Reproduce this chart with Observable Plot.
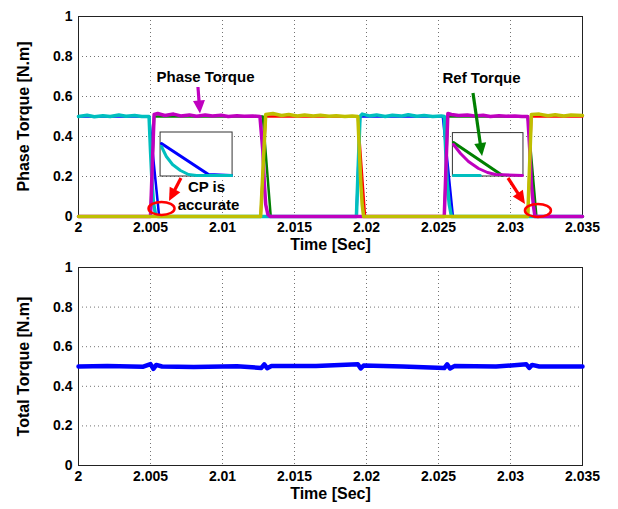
<!DOCTYPE html>
<html><head><meta charset="utf-8">
<script src="https://cdn.jsdelivr.net/npm/d3@7"></script>
<script src="https://cdn.jsdelivr.net/npm/@observablehq/plot@0.6"></script>
<style>
body{margin:0;background:#fff;}
#chart{width:618px;}
#chart svg{display:block;}
</style></head><body><div id="chart"></div>
<script>
// ---------- tick labels ----------
const xTicks = [2, 2.005, 2.01, 2.015, 2.02, 2.025, 2.03, 2.035];
const xTickLabels = ["2", "2.005", "2.01", "2.015", "2.02", "2.025", "2.03", "2.035"];
const yTicks = [0, 0.2, 0.4, 0.6, 0.8, 1];
const yTickLabels = ["0", "0.2", "0.4", "0.6", "0.8", "1"];

// ---------- phase torques (top) ----------
const cyanT = [2.0000,2.0006,2.0011,2.0017,2.0022,2.0028,2.0033,2.0039,2.0044,2.0049,2.0050,2.0051,2.0052,2.00535,2.0055,2.0193,2.01955,2.0197,2.0202,2.0207,2.0213,2.0218,2.0224,2.0229,2.0235,2.0240,2.0246,2.0252,2.0254,2.0255,2.0256,2.02575,2.0259,2.0350];
const cyanV = [0.500,0.506,0.499,0.504,0.500,0.507,0.501,0.505,0.500,0.500,0.33,0.18,0.07,0.01,0,0,0.50,0.512,0.503,0.508,0.500,0.506,0.502,0.509,0.501,0.505,0.500,0.503,0.500,0.33,0.17,0.06,0,0];

const magT = [2.0000,2.0050,2.00525,2.0055,2.0060,2.0066,2.0071,2.0077,2.0082,2.0088,2.0093,2.0099,2.0104,2.0110,2.0115,2.0121,2.0126,2.0128,2.0129,2.0130,2.01315,2.0133,2.0254,2.02565,2.0259,2.0264,2.0270,2.0275,2.0281,2.0286,2.0292,2.0297,2.0303,2.0308,2.0312,2.03135,2.03145,2.0316,2.0317,2.0350];
const magV = [0,0,0.51,0.515,0.505,0.512,0.503,0.508,0.501,0.507,0.502,0.506,0.500,0.504,0.501,0.503,0.500,0.33,0.17,0.06,0.01,0,0,0.515,0.51,0.505,0.508,0.502,0.506,0.500,0.504,0.501,0.503,0.500,0.500,0.32,0.16,0.05,0,0];

const yelT = [2.0000,2.01265,2.0130,2.0135,2.0141,2.0146,2.0152,2.0157,2.0163,2.0168,2.0174,2.0179,2.0185,2.0190,2.0194,2.0195,2.0196,2.0197,2.0198,2.0312,2.03145,2.0320,2.0326,2.0331,2.0337,2.0342,2.0350];
const yelV = [0,0,0.51,0.515,0.505,0.510,0.503,0.508,0.502,0.506,0.501,0.504,0.500,0.503,0.500,0.33,0.17,0.06,0,0,0.51,0.512,0.504,0.509,0.502,0.507,0.505];

// reference torques
const refBlueT = [2.0000,2.0049,2.0056,2.0193,2.01955,2.0253,2.0260,2.0350];
const refBlueV = [0.5,0.5,0,0,0.5,0.5,0,0];
const refGreenT = [2.0000,2.0050,2.00525,2.0128,2.01335,2.0254,2.02565,2.0312,2.0318,2.0350];
const refGreenV = [0,0,0.5,0.5,0,0,0.5,0.5,0,0];
const refRedT = [2.0000,2.01265,2.0130,2.0194,2.0199,2.0312,2.03145,2.0350];
const refRedV = [0,0,0.5,0.5,0,0,0.5,0.5];

// insets (zoomed detail drawn in data coordinates)
const insetBoxes = [
  {t1: 2.0057, t2: 2.0107, v1: 0.20, v2: 0.42},
  {t1: 2.0260, t2: 2.0309, v1: 0.20, v2: 0.417}
];
const in1BlueT = [2.00576, 2.00903, 2.01063];
const in1BlueV = [0.365, 0.21, 0.205];
const in1CyanT = [2.00576, 2.0061, 2.00653, 2.00708, 2.00764, 2.0082, 2.01063];
const in1CyanV = [0.35, 0.30, 0.26, 0.23, 0.21, 0.205, 0.205];
const in2CyanT = [2.02604, 2.0279];
const in2CyanV = [0.205, 0.205];
const in2GreenT = [2.02604, 2.02944];
const in2GreenV = [0.37, 0.205];
const in2MagT = [2.02604, 2.02653, 2.02708, 2.02778, 2.0284, 2.02896, 2.03083];
const in2MagV = [0.36, 0.315, 0.275, 0.24, 0.22, 0.21, 0.205];

// annotations
const labels = [
  {text: "Phase Torque", t: 2.00882, v: 0.695},
  {text: "Ref Torque", t: 2.02799, v: 0.69},
  {text: "CP is", t: 2.00889, v: 0.145},
  {text: "accurate", t: 2.00903, v: 0.055}
];
const arrows = [
  {t1: 2.00833, v1: 0.645, t2: 2.00847, v2: 0.513, color: "#bf00bf"},
  {t1: 2.02743, v1: 0.615, t2: 2.02806, v2: 0.30, color: "#008000"},
  {t1: 2.00715, v1: 0.19, t2: 2.00632, v2: 0.075, color: "#ff0000"},
  {t1: 2.02986, v1: 0.19, t2: 2.03104, v2: 0.06, color: "#ff0000"}
];
const ellipses = [
  {t: 2.00580, v: 0.038},
  {t: 2.03194, v: 0.028}
];

// ---------- total torque (bottom) ----------
const totT = [2.0000,2.0020,2.0045,2.0050,2.0052,2.0054,2.0058,2.0080,2.0110,2.0127,2.0129,2.0131,2.0134,2.0165,2.0194,2.0196,2.0198,2.0225,2.0254,2.0256,2.0258,2.0261,2.0290,2.0311,2.0313,2.0315,2.0320,2.0350];
const totV = [0.500,0.502,0.499,0.512,0.488,0.508,0.500,0.497,0.501,0.493,0.511,0.491,0.503,0.502,0.511,0.490,0.505,0.500,0.492,0.511,0.490,0.502,0.500,0.511,0.493,0.508,0.500,0.500];

// ---------- helpers ----------
const pts = (T, V) => T.map((t, i) => ({t, v: V[i]}));
const xLab = new Map(xTicks.map((d, i) => [d, xTickLabels[i]]));
const yLab = new Map(yTicks.map((d, i) => [d, yTickLabels[i]]));
const FONT = "'Liberation Sans', Arial, Helvetica, sans-serif";

function frameMarks(ylabel) {
  return [
    Plot.gridX(xTicks, {stroke: "#000", strokeOpacity: 0.55, strokeDasharray: "1,3"}),
    Plot.gridY(yTicks, {stroke: "#000", strokeOpacity: 0.55, strokeDasharray: "1,3"}),
    Plot.frame({stroke: "#222"}),
    Plot.axisX(xTicks, {tickSize: 0, tickPadding: 6, tickFormat: d => xLab.get(d), label: null, fontSize: 14, fontWeight: "bold", fill: "#000"}),
    Plot.axisY(yTicks, {tickSize: 0, tickPadding: 6, tickFormat: d => yLab.get(d), label: null, fontSize: 14, fontWeight: "bold", fill: "#000"}),
    Plot.text(["Time [Sec]"], {frameAnchor: "bottom", dy: 33, fontSize: 16, fontWeight: "bold", fill: "#000"}),
    Plot.text([ylabel], {frameAnchor: "left", textAnchor: "middle", rotate: -90, dx: -55, fontSize: 16, fontWeight: "bold", fill: "#000"})
  ];
}

function annotationMark(index, scales) {
  const {x, y} = scales;
  const g = d3.create("svg:g");
  for (const e of ellipses) {
    g.append("ellipse").attr("cx", x(e.t)).attr("cy", y(e.v)).attr("rx", 13).attr("ry", 6.5)
      .attr("fill", "none").attr("stroke", "#ff0000").attr("stroke-width", 2.5);
  }
  for (const a of arrows) {
    const x1 = x(a.t1), y1 = y(a.v1), x2 = x(a.t2), y2 = y(a.v2);
    const dx = x2 - x1, dy = y2 - y1, len = Math.hypot(dx, dy);
    const ux = dx / len, uy = dy / len, L = 13, W = 6;
    const bx = x2 - ux * L, by = y2 - uy * L;
    g.append("line").attr("x1", x1).attr("y1", y1).attr("x2", bx + ux * 2).attr("y2", by + uy * 2)
      .attr("stroke", a.color).attr("stroke-width", 3.2);
    g.append("polygon")
      .attr("points", `${x2},${y2} ${bx - uy * W},${by + ux * W} ${bx + uy * W},${by - ux * W}`)
      .attr("fill", a.color);
  }
  return g.node();
}

const common = {
  width: 618,
  marginLeft: 78,
  marginRight: 36,
  x: {domain: [2, 2.035]},
  y: {domain: [0, 1]},
  style: {fontFamily: FONT, fontWeight: "bold", color: "#000", background: "#fff", overflow: "visible"}
};

const lw = 3.5;
const topChart = Plot.plot({
  ...common,
  height: 258,
  marginTop: 16,
  marginBottom: 42,
  marks: [
    ...frameMarks("Phase Torque [N.m]"),
    Plot.line(pts(refBlueT, refBlueV), {x: "t", y: "v", stroke: "#0000ff", strokeWidth: 2.5}),
    Plot.line(pts(refGreenT, refGreenV), {x: "t", y: "v", stroke: "#008000", strokeWidth: 2.5}),
    Plot.line(pts(refRedT, refRedV), {x: "t", y: "v", stroke: "#ff0000", strokeWidth: 2.5}),
    Plot.line(pts(cyanT, cyanV), {x: "t", y: "v", stroke: "#00bfbf", strokeWidth: lw}),
    Plot.line(pts(magT, magV), {x: "t", y: "v", stroke: "#bf00bf", strokeWidth: lw}),
    Plot.line(pts(yelT, yelV), {x: "t", y: "v", stroke: "#bfbf00", strokeWidth: lw}),
    Plot.rect(insetBoxes, {x1: "t1", x2: "t2", y1: "v1", y2: "v2", fill: "#fff", stroke: "#333", strokeWidth: 1}),
    Plot.line(pts(in1BlueT, in1BlueV), {x: "t", y: "v", stroke: "#0000ff", strokeWidth: 3}),
    Plot.line(pts(in1CyanT, in1CyanV), {x: "t", y: "v", stroke: "#00bfbf", strokeWidth: 3}),
    Plot.line(pts(in2CyanT, in2CyanV), {x: "t", y: "v", stroke: "#00bfbf", strokeWidth: 3}),
    Plot.line(pts(in2GreenT, in2GreenV), {x: "t", y: "v", stroke: "#008000", strokeWidth: 3}),
    Plot.line(pts(in2MagT, in2MagV), {x: "t", y: "v", stroke: "#bf00bf", strokeWidth: 3}),
    Plot.text(labels, {x: "t", y: "v", text: "text", fontSize: 15, fontWeight: "bold", fill: "#000"}),
    annotationMark
  ]
});

const bottomChart = Plot.plot({
  ...common,
  height: 251,
  marginTop: 9,
  marginBottom: 44,
  marks: [
    ...frameMarks("Total Torque [N.m]"),
    Plot.line(pts(totT, totV), {x: "t", y: "v", stroke: "#0000ff", strokeWidth: 4.5})
  ]
});

document.getElementById("chart").append(topChart, bottomChart);
</script></body></html>
